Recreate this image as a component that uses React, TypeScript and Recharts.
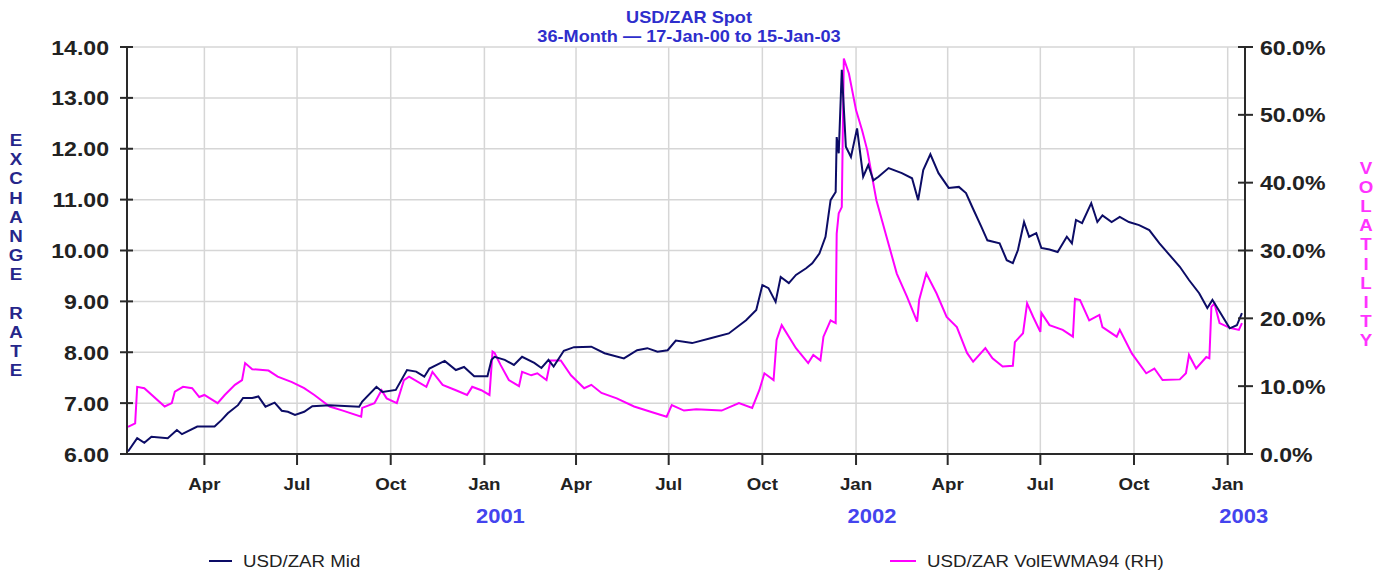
import React from 'react';
import { LineChart, Line, XAxis, YAxis, CartesianGrid } from 'recharts';

const chartTitle = 'USD/ZAR Spot';
const chartSubtitle = '36-Month \u2014 17-Jan-00 to 15-Jan-03';
const leftAxisTitle = 'EXCHANGE RATE';
const rightAxisTitle = 'VOLATILITY';
const midLabel = 'USD/ZAR Mid';
const volLabel = 'USD/ZAR VolEWMA94 (RH)';

const leftTicks = [6, 7, 8, 9, 10, 11, 12, 13, 14];
const rightTicks = [0, 10, 20, 30, 40, 50, 60];
const quarterTicks = [
  '2000-04-01', '2000-07-01', '2000-10-01', '2001-01-01', '2001-04-01', '2001-07-01',
  '2001-10-01', '2002-01-01', '2002-04-01', '2002-07-01', '2002-10-01', '2003-01-01',
];
const monthNames = ['Jan', 'Feb', 'Mar', 'Apr', 'May', 'Jun', 'Jul', 'Aug', 'Sep', 'Oct', 'Nov', 'Dec'];
const domainStart = '2000-01-16';
const domainEnd = '2003-01-18';

const midDates = [
  '2000-01-17', '2000-01-26', '2000-02-02', '2000-02-09', '2000-02-25', '2000-03-05', '2000-03-10',
  '2000-03-25', '2000-04-11', '2000-04-18', '2000-04-24', '2000-05-04', '2000-05-09', '2000-05-18',
  '2000-05-24', '2000-05-31', '2000-06-09', '2000-06-16', '2000-06-22', '2000-06-29', '2000-07-08',
  '2000-07-16', '2000-08-02', '2000-08-31', '2000-09-03', '2000-09-17', '2000-09-23', '2000-10-06',
  '2000-10-17', '2000-10-26', '2000-11-03', '2000-11-08', '2000-11-23', '2000-12-04', '2000-12-12',
  '2000-12-22', '2001-01-04', '2001-01-08', '2001-01-11', '2001-01-21', '2001-01-30', '2001-02-07',
  '2001-02-19', '2001-02-26', '2001-03-05', '2001-03-10', '2001-03-20', '2001-03-30', '2001-04-16',
  '2001-04-29', '2001-05-18', '2001-05-31', '2001-06-10', '2001-06-20', '2001-06-30', '2001-07-08',
  '2001-07-24', '2001-08-12', '2001-08-29', '2001-09-15', '2001-09-25', '2001-10-01', '2001-10-07',
  '2001-10-14', '2001-10-19', '2001-10-27', '2001-11-03', '2001-11-13', '2001-11-19', '2001-11-26',
  '2001-12-02', '2001-12-07', '2001-12-12', '2001-12-13', '2001-12-15', '2001-12-18', '2001-12-22',
  '2001-12-27', '2002-01-02', '2002-01-08', '2002-01-13', '2002-01-18', '2002-01-23', '2002-02-02',
  '2002-02-15', '2002-02-25', '2002-03-03', '2002-03-08', '2002-03-15', '2002-03-23', '2002-04-02',
  '2002-04-12', '2002-04-19', '2002-04-25', '2002-05-04', '2002-05-10', '2002-05-22', '2002-05-29',
  '2002-06-04', '2002-06-09', '2002-06-15', '2002-06-20', '2002-06-27', '2002-07-02', '2002-07-10',
  '2002-07-18', '2002-07-27', '2002-08-01', '2002-08-05', '2002-08-11', '2002-08-20', '2002-08-26',
  '2002-08-31', '2002-09-09', '2002-09-17', '2002-09-26', '2002-10-06', '2002-10-16', '2002-10-26',
  '2002-11-05', '2002-11-15', '2002-11-24', '2002-12-04', '2002-12-12', '2002-12-17', '2002-12-24',
  '2003-01-03', '2003-01-10', '2003-01-15',
];
const midValues = [
  6.05, 6.31, 6.22, 6.34, 6.31, 6.47, 6.39,
  6.54, 6.54, 6.67, 6.80, 6.96, 7.10, 7.10,
  7.13, 6.93, 7.01, 6.85, 6.83, 6.77, 6.83,
  6.94, 6.96, 6.93, 7.03, 7.32, 7.22, 7.26,
  7.65, 7.62, 7.52, 7.68, 7.83, 7.65, 7.71,
  7.53, 7.53, 7.85, 7.91, 7.85, 7.75, 7.91,
  7.79, 7.69, 7.85, 7.72, 8.03, 8.10, 8.11,
  7.98, 7.88, 8.04, 8.08, 8.01, 8.04, 8.23,
  8.18, 8.28, 8.37, 8.63, 8.83, 9.32, 9.26,
  8.99, 9.48, 9.36, 9.52, 9.65, 9.75, 9.94,
  10.27, 10.99, 11.15, 12.23, 11.91, 13.55, 12.04,
  11.84, 12.40, 11.45, 11.68, 11.38, 11.45, 11.62,
  11.52, 11.42, 10.99, 11.58, 11.89, 11.52, 11.23,
  11.25, 11.13, 10.86, 10.47, 10.20, 10.14, 9.81,
  9.75, 10.01, 10.56, 10.27, 10.34, 10.05, 10.02,
  9.97, 10.27, 10.14, 10.60, 10.54, 10.93, 10.56,
  10.69, 10.56, 10.66, 10.56, 10.50, 10.40, 10.14,
  9.91, 9.68, 9.42, 9.16, 8.87, 9.03, 8.80,
  8.47, 8.53, 8.77,
];

const volDates = [
  '2000-01-17', '2000-01-24', '2000-01-26', '2000-02-02', '2000-02-22', '2000-02-29', '2000-03-03',
  '2000-03-11', '2000-03-20', '2000-03-27', '2000-04-01', '2000-04-14', '2000-04-21', '2000-05-01',
  '2000-05-08', '2000-05-11', '2000-05-18', '2000-06-03', '2000-06-12', '2000-06-26', '2000-07-08',
  '2000-07-18', '2000-08-02', '2000-08-15', '2000-09-02', '2000-09-03', '2000-09-15', '2000-09-22',
  '2000-09-27', '2000-10-07', '2000-10-14', '2000-10-19', '2000-11-05', '2000-11-11', '2000-11-21',
  '2000-12-04', '2000-12-15', '2000-12-20', '2000-12-29', '2001-01-06', '2001-01-09', '2001-01-11',
  '2001-01-17', '2001-01-25', '2001-02-04', '2001-02-07', '2001-02-16', '2001-02-22', '2001-03-03',
  '2001-03-07', '2001-03-17', '2001-03-27', '2001-04-09', '2001-04-16', '2001-04-26', '2001-05-11',
  '2001-05-28', '2001-06-14', '2001-06-29', '2001-07-04', '2001-07-16', '2001-07-28', '2001-08-22',
  '2001-09-08', '2001-09-21', '2001-09-28', '2001-10-03', '2001-10-12', '2001-10-15', '2001-10-20',
  '2001-11-03', '2001-11-15', '2001-11-20', '2001-11-27', '2001-11-30', '2001-12-07', '2001-12-12',
  '2001-12-13', '2001-12-15', '2001-12-18', '2001-12-20', '2001-12-25', '2002-01-01', '2002-01-07',
  '2002-01-12', '2002-01-21', '2002-01-31', '2002-02-10', '2002-02-20', '2002-03-02', '2002-03-04',
  '2002-03-11', '2002-03-21', '2002-03-31', '2002-04-10', '2002-04-20', '2002-04-26', '2002-05-08',
  '2002-05-15', '2002-05-25', '2002-06-04', '2002-06-06', '2002-06-14', '2002-06-18', '2002-06-24',
  '2002-07-01', '2002-07-02', '2002-07-10', '2002-07-23', '2002-08-02', '2002-08-04', '2002-08-09',
  '2002-08-18', '2002-08-28', '2002-08-31', '2002-09-14', '2002-09-17', '2002-09-29', '2002-10-13',
  '2002-10-21', '2002-10-29', '2002-11-15', '2002-11-21', '2002-11-24', '2002-12-01', '2002-12-11',
  '2002-12-14', '2002-12-16', '2002-12-19', '2002-12-24', '2003-01-03', '2003-01-12', '2003-01-15',
];
const volValues = [
  4.0, 4.5, 9.9, 9.7, 7.0, 7.5, 9.2,
  9.9, 9.7, 8.4, 8.7, 7.5, 8.7, 10.2,
  10.9, 13.4, 12.5, 12.3, 11.4, 10.6, 9.7,
  8.7, 7.0, 6.4, 5.5, 6.8, 7.5, 9.4,
  8.2, 7.5, 10.9, 11.4, 9.9, 12.1, 10.2,
  9.4, 8.7, 9.9, 9.4, 8.7, 15.1, 14.9,
  13.1, 10.9, 10.0, 12.1, 11.6, 11.9, 10.9,
  13.8, 13.8, 11.6, 9.7, 10.2, 9.0, 8.2,
  7.0, 6.2, 5.5, 7.2, 6.4, 6.6, 6.4,
  7.5, 6.8, 9.4, 11.9, 10.9, 16.8, 19.0,
  15.6, 13.4, 14.6, 13.8, 17.3, 19.7, 19.3,
  32.5, 35.5, 36.4, 58.3, 56.1, 50.7, 47.7,
  44.8, 37.4, 32.0, 26.6, 23.2, 19.5, 22.7,
  26.6, 23.7, 20.2, 18.7, 14.9, 13.6, 15.6,
  14.1, 12.9, 13.0, 16.5, 17.8, 22.2, 20.2,
  18.0, 20.8, 19.0, 18.3, 17.3, 22.9, 22.7,
  19.7, 20.5, 18.7, 17.3, 18.3, 14.8, 11.9,
  12.6, 10.9, 11.0, 11.9, 14.6, 12.6, 14.3,
  14.1, 21.7, 22.2, 19.3, 18.6, 18.3, 19.3,
];

const toTs = (s: string) => {
  const [y, m, d] = s.split('-').map(Number);
  return Date.UTC(y, m - 1, d);
};

const midData = midDates.map((d, i) => ({ t: toTs(d), mid: midValues[i] }));
const volData = volDates.map((d, i) => ({ t: toTs(d), vol: volValues[i] }));
const xTicks = quarterTicks.map(toTs);

const W = 1382;
const H = 571;
const PLOT_LEFT = 127;
const PLOT_RIGHT = 1245;
const SX = 1.1;
const FONT = '"Liberation Sans", Arial, Helvetica, sans-serif';
const AXIS_COLOR = '#2a2a2a';
const NAVY = '#0c0c66';
const MAGENTA = '#ff00ff';

const XTick = (props: any) => {
  const { x, payload } = props;
  const d = new Date(payload.value);
  const m = d.getUTCMonth();
  const base = 454;
  return (
    <g>
      <text
        transform={`translate(${x},${base + 36}) scale(${SX},1)`}
        textAnchor="middle"
        fontSize={17}
        fontWeight="bold"
        fontFamily={FONT}
        fill="#222"
      >
        {monthNames[m]}
      </text>
      {m === 0 && (
        <text
          transform={`translate(${x + 16},${base + 69}) scale(${SX},1)`}
          textAnchor="middle"
          fontSize={20}
          fontWeight="bold"
          fontFamily={FONT}
          fill="#4444ee"
        >
          {d.getUTCFullYear()}
        </text>
      )}
    </g>
  );
};

const LeftTick = (props: any) => {
  const { y, payload } = props;
  return (
    <g>
      <line x1={PLOT_LEFT - 7} x2={PLOT_LEFT + 6} y1={y} y2={y} stroke={AXIS_COLOR} strokeWidth={2} />
      <text
        transform={`translate(${PLOT_LEFT - 18},${y + 7.5}) scale(${SX},1)`}
        textAnchor="end"
        fontSize={21}
        fontWeight="bold"
        fontFamily={FONT}
        fill="#222"
      >
        {Number(payload.value).toFixed(2)}
      </text>
    </g>
  );
};

const RightTick = (props: any) => {
  const { y, payload } = props;
  return (
    <g>
      <line x1={PLOT_RIGHT - 7} x2={PLOT_RIGHT + 8} y1={y} y2={y} stroke={AXIS_COLOR} strokeWidth={2} />
      <text
        transform={`translate(${PLOT_RIGHT + 15},${y + 7.5}) scale(${SX},1)`}
        textAnchor="start"
        fontSize={21}
        fontWeight="bold"
        fontFamily={FONT}
        fill="#222"
      >
        {Number(payload.value).toFixed(1) + '%'}
      </text>
    </g>
  );
};

const VerticalLetters = ({ text, x, y0, step, color }: any) => (
  <g>
    {text.split('').map((ch: string, i: number) =>
      ch === ' ' ? null : (
        <text
          key={i}
          transform={`translate(${x},${y0 + i * step + 6}) scale(${SX},1)`}
          textAnchor="middle"
          fontSize={17}
          fontWeight="bold"
          fontFamily={FONT}
          fill={color}
        >
          {ch}
        </text>
      )
    )}
  </g>
);

export default function App() {
  return (
    <div style={{ position: 'absolute', left: 0, top: 0, width: W, height: H, background: '#fff' }}>
      <LineChart
        width={W}
        height={H}
        margin={{ top: 47, right: 77, bottom: 87, left: 67 }}
      >
        <CartesianGrid
          yAxisId="left"
          stroke="#d6d6d6"
          strokeWidth={1.5}
        />
        <XAxis
          dataKey="t"
          type="number"
          scale="time"
          domain={[toTs(domainStart), toTs(domainEnd)]}
          ticks={xTicks}
          allowDataOverflow
          height={30}
          tickSize={11}
          tickMargin={4}
          axisLine={{ stroke: AXIS_COLOR, strokeWidth: 2 }}
          tickLine={{ stroke: AXIS_COLOR, strokeWidth: 2 }}
          tick={<XTick />}
          interval={0}
        />
        <YAxis
          yAxisId="left"
          orientation="left"
          width={60}
          domain={[6, 14]}
          ticks={leftTicks}
          interval={0}
          allowDataOverflow
          axisLine={{ stroke: AXIS_COLOR, strokeWidth: 2 }}
          tickLine={false}
          tick={<LeftTick />}
        />
        <YAxis
          yAxisId="right"
          orientation="right"
          width={60}
          domain={[0, 60]}
          ticks={rightTicks}
          interval={0}
          allowDataOverflow
          axisLine={{ stroke: AXIS_COLOR, strokeWidth: 2 }}
          tickLine={false}
          tick={<RightTick />}
        />
        <Line
          yAxisId="right"
          data={volData}
          dataKey="vol"
          type="linear"
          stroke={MAGENTA}
          strokeWidth={2}
          strokeLinejoin="miter"
          dot={false}
          isAnimationActive={false}
        />
        <Line
          yAxisId="left"
          data={midData}
          dataKey="mid"
          type="linear"
          stroke={NAVY}
          strokeWidth={2}
          strokeLinejoin="miter"
          dot={false}
          isAnimationActive={false}
        />
      </LineChart>
      <svg
        width={W}
        height={H}
        style={{ position: 'absolute', left: 0, top: 0, pointerEvents: 'none' }}
      >
        <text
          transform={`translate(689,23) scale(${SX},1)`}
          textAnchor="middle"
          fontSize={16.5}
          fontWeight="bold"
          fontFamily={FONT}
          fill="#2e2ecc"
        >
          {chartTitle}
        </text>
        <text
          transform={`translate(689,42) scale(${SX},1)`}
          textAnchor="middle"
          fontSize={16.5}
          fontWeight="bold"
          fontFamily={FONT}
          fill="#2e2ecc"
        >
          {chartSubtitle}
        </text>
        <VerticalLetters text={leftAxisTitle} x={16} y0={140} step={19.2} color="#26268a" />
        <VerticalLetters text={rightAxisTitle} x={1366} y0={168} step={19.1} color="#ff33ff" />
        <line x1={209} x2={232} y1={561} y2={561} stroke={NAVY} strokeWidth={2} />
        <text
          transform={`translate(243,567) scale(${SX},1)`}
          fontSize={17}
          fontFamily={FONT}
          fill="#222"
        >
          {midLabel}
        </text>
        <line x1={890} x2={916} y1={561} y2={561} stroke={MAGENTA} strokeWidth={2} />
        <text
          transform={`translate(927,567) scale(${SX},1)`}
          fontSize={17}
          fontFamily={FONT}
          fill="#222"
        >
          {volLabel}
        </text>
      </svg>
    </div>
  );
}
